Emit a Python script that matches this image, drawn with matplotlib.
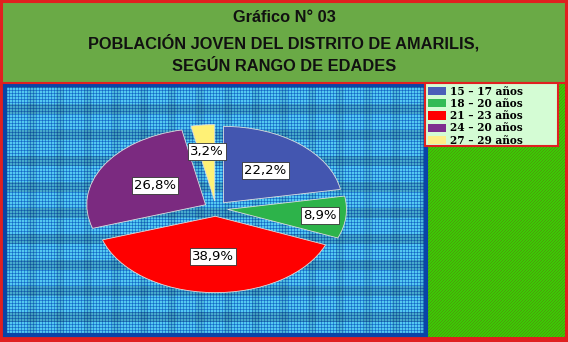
import numpy as np
import matplotlib.pyplot as plt
from matplotlib.patches import Rectangle, Patch

# data
rangos = ['15 – 17 años', '18 – 20 años', '21 – 23 años', '24 – 20 años', '27 – 29 años']
porcentajes = [22.2, 8.9, 38.9, 26.8, 3.2]
colores = ['#4356b0', '#2db34a', '#ff0000', '#7b2a80', '#fff176']
colores_leyenda = ['#4a5fb8', '#33bb55', '#ff0000', '#7f2f8f', '#ffee88']
titulo = 'Gráfico N° 03\nPOBLACIÓN JOVEN DEL DISTRITO DE AMARILIS,\nSEGÚN RANGO DE EDADES'

W, H = 568, 342
fig = plt.figure(figsize=(W / 100, H / 100), dpi=100)
fig.patch.set_facecolor('#e02020')

# background textures (plaid blue plot area, hatched green side)
bg = fig.add_axes([0, 0, 1, 1])
bg.set_axis_off()
img = np.ones((H, W, 3))
yy, xx = np.mgrid[0:H, 0:W]
blue = np.zeros((H, W, 3))
blue[:] = (85 / 255, 200 / 255, 240 / 255)
vline = xx % 3 == 0
hline = yy % 3 == 0
blue[vline | hline] = (40 / 255, 140 / 255, 215 / 255)
blue[vline & hline] = (25 / 255, 100 / 255, 195 / 255)
blue[(yy % 26) < 10] *= 0.85
blue[(xx % 28) < 8] *= 0.92
green = np.zeros((H, W, 3))
green[:] = (60 / 255, 200 / 255, 5 / 255)
green[((xx + yy) % 3) == 0] = (75 / 255, 160 / 255, 10 / 255)
img[:] = (224 / 255, 32 / 255, 32 / 255)
img[84:337, 3:428] = blue[84:337, 3:428]
img[84:337, 428:565] = green[84:337, 428:565]
bg.imshow(img, extent=[0, W, H, 0], interpolation='nearest', aspect='auto')
bg.set_xlim(0, W)
bg.set_ylim(H, 0)
# dark blue frame around plot area
bg.add_patch(Rectangle((5, 85), 421, 250, fill=False, edgecolor='#0a44a8', lw=3))
# title box
bg.add_patch(Rectangle((2, 2), W - 4, 81, facecolor='#6aaa46', edgecolor='#e02020', lw=1.5))
bg.text(W / 2, 42, titulo, ha='center', va='center', fontsize=11.8, fontweight='bold',
        family='Liberation Sans', linespacing=1.65, color='#111111')
# legend frame
bg.add_patch(Rectangle((425, 83), 133, 63, facecolor='#d4fcd4', edgecolor='#e02020', lw=1.5))

# pie
ax = fig.add_axes([0.129, 0.122, 0.502, 0.536])
ax.set_axis_off()
wedges, _ = ax.pie(porcentajes, colors=colores, startangle=90, counterclock=False,
                   explode=[0.1] * 5, wedgeprops=dict(edgecolor='#dddddd', linewidth=0.6))
ax.set_aspect('auto')
ax.set_xlim(-1.2, 1.2)
ax.set_ylim(-1.2, 1.2)

dist = [0.55, 0.78, 0.53, 0.49, 0.65]
for w, p, d in zip(wedges, porcentajes, dist):
    ang = np.deg2rad((w.theta1 + w.theta2) / 2)
    cx = 0.1 * np.cos(ang) + d * np.cos(ang)
    cy = 0.1 * np.sin(ang) + d * np.sin(ang)
    ax.text(cx, cy, f'{p:.1f}%'.replace('.', ','), ha='center', va='center',
            fontsize=9.5, family='DejaVu Sans', color='black',
            bbox=dict(boxstyle='square,pad=0.15', facecolor='white', edgecolor='#333333', lw=0.6))

# legend
handles = [Patch(facecolor=c, edgecolor='none') for c in colores_leyenda]
leg = fig.legend(handles, rangos, loc='upper left', bbox_to_anchor=(426 / W, 1 - 84 / H),
                 frameon=False, prop=dict(family='DejaVu Serif', weight='bold', size=7.6),
                 handlelength=1.75, handleheight=0.85, handletextpad=0.4, labelspacing=0.12,
                 borderpad=0.15, borderaxespad=0)

fig.savefig('out.png', dpi=100)
